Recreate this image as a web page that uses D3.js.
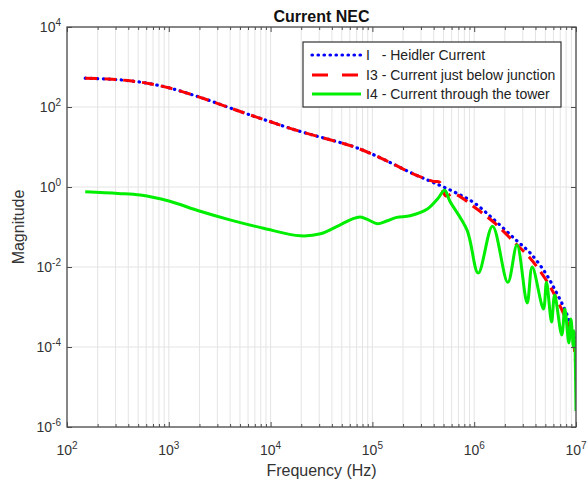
<!DOCTYPE html>
<html>
<head>
<meta charset="utf-8">
<script src="https://cdn.jsdelivr.net/npm/d3@7"></script>
<style>
  body { margin: 0; background: #fff; }
  svg { display: block; font-family: "Liberation Sans", Arial, sans-serif; }
</style>
</head>
<body>
<svg id="chart" width="588" height="483"></svg>
<script>
// I - Heidler current spectrum
const iFreq = [151, 251, 398, 631, 1000, 1585, 2512, 3981, 6310, 1e4, 15850, 25120, 39810, 63100,
  1e5, 158500, 251200, 398100, 631000, 1e6, 1.585e6, 2.512e6, 3.548e6, 5.012e6, 6.31e6,
  7.943e6, 9.333e6, 9.772e6, 1e7];
const iMag = [525, 500, 457, 389, 302, 214, 145, 95, 63, 42.7, 28.8, 20.4, 14.8, 10.5,
  6.6, 3.8, 2.14, 1.29, 0.76, 0.4, 0.148, 0.05, 0.0224, 0.0071, 0.0025,
  7.6e-4, 2.3e-4, 1.26e-4, 1.6e-5];

// I3 - current just below the junction
const i3Freq = [151, 251, 398, 631, 1000, 1585, 2512, 3981, 6310, 1e4, 15850, 25120, 39810, 63100,
  1e5, 158500, 251200, 398100, 457000, 525000, 631000, 1e6, 1.585e6, 2.512e6, 3.548e6,
  5.012e6, 6.31e6, 7.943e6, 9.333e6, 9.772e6, 1e7];
const i3Mag = [525, 500, 457, 389, 302, 214, 145, 95, 63, 42.7, 28.8, 20.4, 14.8, 10.5,
  6.6, 3.8, 2.14, 1.38, 1.32, 0.6, 0.68, 0.316, 0.126, 0.04, 0.0166,
  0.005, 0.00178, 5.0e-4, 1.58e-4, 6.3e-5, 2.5e-5];

// I4 - current through the tower
const i4Freq = [151, 316, 525, 1000, 1995, 3981, 8511, 19500, 30900, 47860, 63100, 75860, 91200,
  112200, 138000, 173800, 234400, 346700, 436500, 512900, 575400, 851100, 1.096e6, 1.514e6,
  2.138e6, 2.63e6, 3.311e6, 3.715e6, 4.786e6, 5.129e6, 5.754e6, 6.166e6, 7.244e6, 7.762e6,
  8.511e6, 8.913e6, 9.44e6, 9.66e6, 1e7];
const i4Mag = [0.759, 0.692, 0.631, 0.447, 0.251, 0.151, 0.0933, 0.0603, 0.0676, 0.112, 0.158, 0.178, 0.151,
  0.12, 0.141, 0.174, 0.191, 0.282, 0.501, 0.832, 0.447, 0.0832, 0.00708, 0.105,
  0.00417, 0.0355, 0.00126, 0.01, 8.9e-4, 0.00417, 4.2e-4, 0.002, 2.0e-4, 8.9e-4,
  1.26e-4, 5.0e-4, 1.0e-4, 2.5e-4, 2.5e-6];

const freqTicks = [1e2, 1e3, 1e4, 1e5, 1e6, 1e7];
const freqExp = ['2', '3', '4', '5', '6', '7'];
const magTicks = [1e4, 1e2, 1e0, 1e-2, 1e-4, 1e-6];
const magExp = ['4', '2', '0', '-2', '-4', '-6'];

const legendLabels = [
  { key: 'I', text: '- Heidler Current' },
  { key: 'I3', text: '- Current just below junction' },
  { key: 'I4', text: '- Current through the tower' }
];

const plot = { left: 67, right: 576, top: 27, bottom: 427 };

const svg = d3.select('#chart');

const x = d3.scaleLog().domain([1e2, 1e7]).range([plot.left, plot.right]);
const y = d3.scaleLog().domain([1e-6, 1e4]).range([plot.bottom, plot.top]);

const gridColor = '#e4e4e4';
const axisColor = '#4d4d4d';

// grid
const grid = svg.append('g');
grid.selectAll('line.vgrid')
  .data(x.ticks())
  .enter().append('line')
  .attr('x1', d => x(d)).attr('x2', d => x(d))
  .attr('y1', plot.top).attr('y2', plot.bottom)
  .attr('stroke', gridColor).attr('stroke-width', 1);
grid.selectAll('line.hgrid')
  .data(magTicks)
  .enter().append('line')
  .attr('x1', plot.left).attr('x2', plot.right)
  .attr('y1', d => y(d)).attr('y2', d => y(d))
  .attr('stroke', gridColor).attr('stroke-width', 1);

// curves
svg.append('clipPath').attr('id', 'clip')
  .append('rect')
  .attr('x', plot.left).attr('y', plot.top)
  .attr('width', plot.right - plot.left).attr('height', plot.bottom - plot.top);

const line = d3.line()
  .x(d => x(d[0]))
  .y(d => y(d[1]))
  .curve(d3.curveCatmullRom.alpha(0.5));

const series = [
  { freq: iFreq, mag: iMag, color: '#0000ff', width: 3.2, dash: '0.5,5.5', cap: 'round' },
  { freq: i3Freq, mag: i3Mag, color: '#ff0000', width: 3, dash: '12,7', cap: 'butt' },
  { freq: i4Freq, mag: i4Mag, color: '#00ee00', width: 3, dash: null, cap: 'butt' }
];

const curves = svg.append('g').attr('clip-path', 'url(#clip)');
series.forEach(s => {
  curves.append('path')
    .datum(s.freq.map((f, i) => [f, s.mag[i]]))
    .attr('d', line)
    .attr('fill', 'none')
    .attr('stroke', s.color)
    .attr('stroke-width', s.width)
    .attr('stroke-dasharray', s.dash)
    .attr('stroke-linecap', s.cap)
    .attr('stroke-linejoin', 'round');
});

// axes box with inward ticks
const axes = svg.append('g');
const minorX = x.ticks().filter(d => !freqTicks.includes(d));

function tickAxis(axisFn, scale, values, size, transform) {
  axes.append('g')
    .attr('transform', transform)
    .call(axisFn(scale).tickValues(values).tickSize(size).tickFormat(''))
    .call(g => g.select('.domain').remove())
    .call(g => g.selectAll('line').attr('stroke', axisColor).attr('stroke-width', 1));
}
tickAxis(d3.axisBottom, x, freqTicks, -5, `translate(0,${plot.bottom})`);
tickAxis(d3.axisBottom, x, minorX, -3, `translate(0,${plot.bottom})`);
tickAxis(d3.axisTop, x, freqTicks, -5, `translate(0,${plot.top})`);
tickAxis(d3.axisTop, x, minorX, -3, `translate(0,${plot.top})`);
tickAxis(d3.axisLeft, y, magTicks, -5, `translate(${plot.left},0)`);
tickAxis(d3.axisRight, y, magTicks, -5, `translate(${plot.right},0)`);

axes.append('rect')
  .attr('x', plot.left).attr('y', plot.top)
  .attr('width', plot.right - plot.left).attr('height', plot.bottom - plot.top)
  .attr('fill', 'none').attr('stroke', axisColor).attr('stroke-width', 1.3);

// tick labels with superscript exponents
const labelColor = '#333';
freqTicks.forEach((v, i) => {
  const t = svg.append('text')
    .attr('x', x(v)).attr('y', 455)
    .attr('text-anchor', 'middle')
    .attr('font-size', 14).attr('fill', labelColor);
  t.append('tspan').text('10');
  t.append('tspan').attr('dy', -6).attr('font-size', 10).text(freqExp[i]);
});
magTicks.forEach((v, i) => {
  const t = svg.append('text')
    .attr('x', 61).attr('y', y(v) + 5)
    .attr('text-anchor', 'end')
    .attr('font-size', 14).attr('fill', labelColor);
  t.append('tspan').text('10');
  t.append('tspan').attr('dy', -6).attr('font-size', 10).text(magExp[i]);
});

// titles
svg.append('text')
  .attr('x', (plot.left + plot.right) / 2).attr('y', 22)
  .attr('text-anchor', 'middle')
  .attr('font-size', 16).attr('font-weight', 'bold').attr('fill', '#111')
  .text('Current NEC');

svg.append('text')
  .attr('x', (plot.left + plot.right) / 2).attr('y', 476)
  .attr('text-anchor', 'middle')
  .attr('font-size', 16).attr('fill', labelColor)
  .text('Frequency (Hz)');

svg.append('text')
  .attr('transform', `translate(24,${(plot.top + plot.bottom) / 2}) rotate(-90)`)
  .attr('text-anchor', 'middle')
  .attr('font-size', 16).attr('fill', labelColor)
  .text('Magnitude');

// legend
const legend = svg.append('g');
legend.append('rect')
  .attr('x', 303).attr('y', 42).attr('width', 258).attr('height', 65)
  .attr('fill', '#fff').attr('stroke', '#333').attr('stroke-width', 1.2);

const rowY = [55, 75, 94];
const legendFont = 14;
const keyW = (() => {
  const tmp = legend.append('text').attr('font-size', legendFont).text('I3');
  const w = tmp.node().getComputedTextLength();
  tmp.remove();
  return w + 4;
})();

legendLabels.forEach((d, i) => {
  const s = series[i];
  legend.append('line')
    .attr('x1', 312).attr('x2', 361)
    .attr('y1', rowY[i]).attr('y2', rowY[i])
    .attr('stroke', s.color).attr('stroke-width', s.width)
    .attr('stroke-dasharray', i === 1 ? '16,14' : s.dash)
    .attr('stroke-linecap', s.cap);
  legend.append('text')
    .attr('x', 366).attr('y', rowY[i] + 5)
    .attr('font-size', legendFont).attr('fill', '#222')
    .text(d.key);
  legend.append('text')
    .attr('x', 366 + keyW).attr('y', rowY[i] + 5)
    .attr('font-size', legendFont).attr('fill', '#222')
    .text(d.text);
});
</script>
</body>
</html>
